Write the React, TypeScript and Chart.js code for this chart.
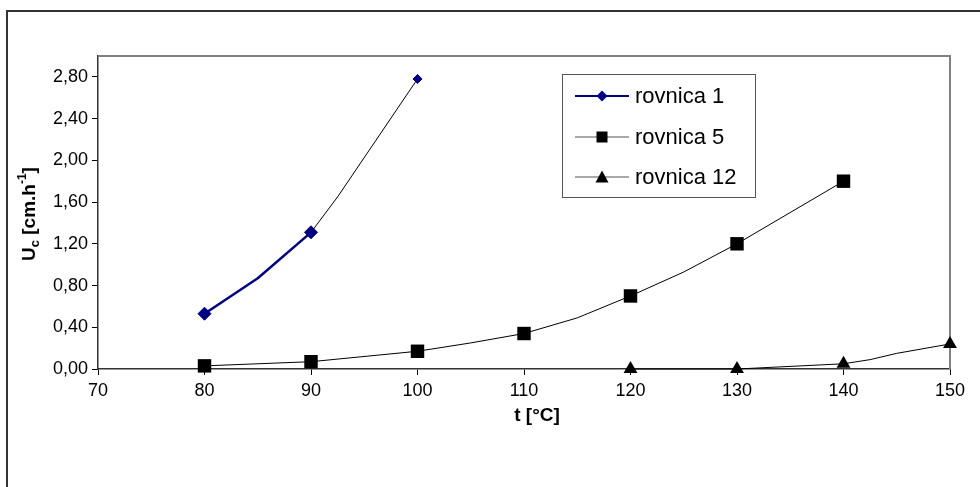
import { useEffect, useRef } from "react";
import { Chart, registerables } from "chart.js";

Chart.register(...registerables);

// ---- data ----
const seriesLabels = ["rovnica 1", "rovnica 5", "rovnica 12"];

// measured points (with markers)
const r1Temps = [80, 90, 100];
const r1Values = [0.53, 1.31, 2.78];
const r5Temps = [80, 90, 100, 110, 120, 130, 140];
const r5Values = [0.03, 0.07, 0.17, 0.34, 0.7, 1.2, 1.8];
const r12Temps = [120, 130, 140, 150];
const r12Values = [0.0, 0.0, 0.05, 0.24];

// intermediate points of the drawn curves (no markers)
const r1CurveTemps = [85, 92.5];
const r1CurveValues = [0.87, 1.65];
const r5CurveTemps = [105, 115, 125];
const r5CurveValues = [0.25, 0.49, 0.93];
const r12CurveTemps = [142.5, 145];
const r12CurveValues = [0.09, 0.15];

const xTickLabels = ["70", "80", "90", "100", "110", "120", "130", "140", "150"];
const yTickLabels = ["0,00", "0,40", "0,80", "1,20", "1,60", "2,00", "2,40", "2,80"];

const xTitle = "t [°C]";

const FONT = "'Liberation Sans', Arial, Helvetica, sans-serif";
const NAVY = "#000080";

function merge(tA: number[], vA: number[], tB: number[], vB: number[]) {
  const pts = [
    ...tA.map((x, i) => ({ x, y: vA[i], m: true })),
    ...tB.map((x, i) => ({ x, y: vB[i], m: false })),
  ];
  pts.sort((a, b) => a.x - b.x);
  return pts;
}

function drawMarker(ctx: CanvasRenderingContext2D, style: string, x: number, y: number, s: number, color: string) {
  ctx.save();
  ctx.fillStyle = color;
  ctx.beginPath();
  if (style === "diamond") {
    ctx.moveTo(x, y - s);
    ctx.lineTo(x + s, y);
    ctx.lineTo(x, y + s);
    ctx.lineTo(x - s, y);
  } else if (style === "square") {
    ctx.rect(x - s, y - s, 2 * s, 2 * s);
  } else {
    ctx.moveTo(x, y - s);
    ctx.lineTo(x + s, y + s * 0.85);
    ctx.lineTo(x - s, y + s * 0.85);
  }
  ctx.closePath();
  ctx.fill();
  ctx.restore();
}

const decorPlugin = {
  id: "decor",
  beforeDraw(chart: any) {
    const { ctx, width, height } = chart;
    ctx.save();
    ctx.fillStyle = "#ffffff";
    ctx.fillRect(0, 0, width, height);
    // outer chart frame (left and top visible)
    ctx.strokeStyle = "#333333";
    ctx.lineWidth = 2;
    ctx.beginPath();
    ctx.moveTo(7, height);
    ctx.lineTo(7, 11);
    ctx.lineTo(width, 11);
    ctx.stroke();
    ctx.restore();
  },
  beforeDatasetsDraw(chart: any) {
    const { ctx, chartArea } = chart;
    ctx.save();
    ctx.strokeStyle = "#808080";
    ctx.lineWidth = 2;
    ctx.beginPath();
    ctx.moveTo(chartArea.left, chartArea.top);
    ctx.lineTo(chartArea.right, chartArea.top);
    ctx.lineTo(chartArea.right, chartArea.bottom);
    ctx.stroke();
    ctx.restore();
  },
  afterDraw(chart: any) {
    const { ctx } = chart;
    ctx.save();
    ctx.fillStyle = "#000";
    // x axis title
    ctx.font = `bold 19px ${FONT}`;
    ctx.textAlign = "center";
    ctx.textBaseline = "middle";
    ctx.fillText(xTitle, 537, 416);

    // y axis title with subscript / superscript
    const parts = [
      { t: "U", s: 19, dy: 0 },
      { t: "c", s: 13, dy: 5 },
      { t: " [cm.h", s: 19, dy: 0 },
      { t: "-1", s: 12, dy: -7 },
      { t: "]", s: 19, dy: 0 },
    ];
    let total = 0;
    parts.forEach((p) => {
      ctx.font = `bold ${p.s}px ${FONT}`;
      total += ctx.measureText(p.t).width;
    });
    ctx.translate(30, 214);
    ctx.rotate(-Math.PI / 2);
    ctx.textAlign = "left";
    let cx = -total / 2;
    parts.forEach((p) => {
      ctx.font = `bold ${p.s}px ${FONT}`;
      ctx.fillText(p.t, cx, p.dy);
      cx += ctx.measureText(p.t).width;
    });
    ctx.restore();

    // legend
    ctx.save();
    const bx = 562, by = 74, bw = 193, bh = 123;
    ctx.fillStyle = "#fff";
    ctx.fillRect(bx, by, bw, bh);
    ctx.strokeStyle = "#555";
    ctx.lineWidth = 1;
    ctx.strokeRect(bx + 0.5, by + 0.5, bw, bh);
    const rows = [96, 137, 177];
    const styles = ["diamond", "square", "triangle"];
    const lineColors = [NAVY, "#555", "#555"];
    const lineWidths = [2, 1.2, 1.2];
    const markColors = [NAVY, "#000", "#000"];
    const sizes = [5.5, 5.5, 6.5];
    chart.data.datasets.forEach((ds: any, i: number) => {
      const y = rows[i];
      ctx.strokeStyle = lineColors[i];
      ctx.lineWidth = lineWidths[i];
      ctx.beginPath();
      ctx.moveTo(575, y);
      ctx.lineTo(629, y);
      ctx.stroke();
      drawMarker(ctx, styles[i], 602, y, sizes[i], markColors[i]);
      ctx.fillStyle = "#000";
      ctx.font = `22px ${FONT}`;
      ctx.textAlign = "left";
      ctx.textBaseline = "middle";
      ctx.fillText(ds.label, 635, y + 1);
    });
    ctx.restore();
  },
};

export default function App() {
  const ref = useRef<HTMLCanvasElement | null>(null);

  useEffect(() => {
    if (!ref.current) return;
    const d1 = merge(r1Temps, r1Values, r1CurveTemps, r1CurveValues);
    const d5 = merge(r5Temps, r5Values, r5CurveTemps, r5CurveValues);
    const d12 = merge(r12Temps, r12Values, r12CurveTemps, r12CurveValues);
    const lastR1 = r1Temps[r1Temps.length - 1];

    const chart = new Chart(ref.current, {
      type: "line",
      data: {
        datasets: [
          {
            label: seriesLabels[0],
            data: d1,
            clip: false,
            borderColor: "#000",
            backgroundColor: NAVY,
            pointBackgroundColor: NAVY,
            pointBorderColor: NAVY,
            pointBorderWidth: 1,
            pointStyle: "rectRot",
            pointRadius: (c: any) => {
              const p = c.raw;
              if (!p || !p.m) return 0;
              return p.x === lastR1 ? 4.5 : 6.5;
            },
            segment: {
              borderColor: (c: any) => (c.p1.parsed.x <= 90 ? NAVY : "#000"),
              borderWidth: (c: any) => (c.p1.parsed.x <= 90 ? 2.5 : 1),
            },
            borderWidth: 1,
            fill: false,
            tension: 0,
          },
          {
            label: seriesLabels[1],
            data: d5,
            clip: false,
            borderColor: "#000",
            borderWidth: 1,
            backgroundColor: "#000",
            pointBackgroundColor: "#000",
            pointBorderColor: "#000",
            pointBorderWidth: 0,
            pointStyle: "rect",
            pointRadius: (c: any) => (c.raw && c.raw.m ? 9.5 : 0),
            fill: false,
            tension: 0,
          },
          {
            label: seriesLabels[2],
            data: d12,
            clip: false,
            borderColor: "#000",
            borderWidth: 1,
            backgroundColor: "#000",
            pointBackgroundColor: "#000",
            pointBorderColor: "#000",
            pointBorderWidth: 0,
            pointStyle: "triangle",
            pointRadius: (c: any) => (c.raw && c.raw.m ? 8 : 0),
            fill: false,
            tension: 0,
          },
        ] as any,
      },
      options: {
        responsive: false,
        animation: false,
        parsing: { xAxisKey: "x", yAxisKey: "y" } as any,
        layout: { padding: { top: 56, right: 30, left: 0, bottom: 0 } },
        plugins: {
          legend: { display: false },
          tooltip: { enabled: false },
          title: { display: false },
        },
        elements: { line: { borderCapStyle: "round", borderJoinStyle: "round" } },
        scales: {
          x: {
            type: "linear",
            min: 70,
            max: 150,
            afterFit: (s: any) => {
              s.height = 118;
            },
            ticks: {
              stepSize: 10,
              color: "#000",
              font: { family: FONT, size: 18 },
              padding: 5,
              maxRotation: 0,
              callback: (_v: any, i: number) => xTickLabels[i],
            },
            grid: {
              display: true,
              drawOnChartArea: false,
              drawTicks: true,
              tickLength: 6,
              color: "#000",
            },
            border: { display: true, color: "#333", width: 1.5 },
          },
          y: {
            type: "linear",
            min: 0,
            max: 3,
            afterFit: (s: any) => {
              s.width = 98;
            },
            ticks: {
              stepSize: 0.4,
              includeBounds: false,
              color: "#000",
              font: { family: FONT, size: 18 },
              padding: 4,
              callback: (_v: any, i: number) => yTickLabels[i],
            },
            grid: {
              display: true,
              drawOnChartArea: false,
              drawTicks: true,
              tickLength: 6,
              color: "#000",
            },
            border: { display: true, color: "#333", width: 1.5 },
          },
        },
      },
      plugins: [decorPlugin],
    });
    return () => chart.destroy();
  }, []);

  return (
    <div style={{ position: "absolute", left: 0, top: 0, width: 980, height: 487, background: "#fff" }}>
      <canvas ref={ref} width={980} height={487} style={{ display: "block", width: 980, height: 487 }} />
    </div>
  );
}
